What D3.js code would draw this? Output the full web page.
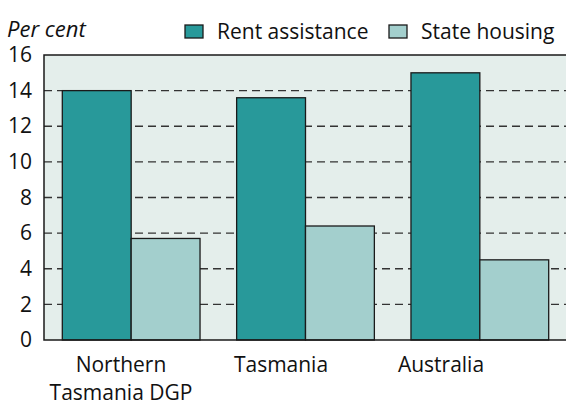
<!DOCTYPE html>
<html>
<head>
<meta charset="utf-8">
<script src="https://cdn.jsdelivr.net/npm/d3@7"></script>
<style>
  body { margin: 0; background: #fff; }
  text { font-family: "Open Sans", sans-serif; fill: #111; }
</style>
</head>
<body>
<div id="chart"></div>
<script>
// data
const categories = ["Northern Tasmania DGP", "Tasmania", "Australia"];
const categoryLines = [["Northern", "Tasmania DGP"], ["Tasmania"], ["Australia"]];
const seriesNames = ["Rent assistance", "State housing"];
const rentAssistance = [14.0, 13.6, 15.0];
const stateHousing = [5.7, 6.4, 4.5];
const yTicks = [0, 2, 4, 6, 8, 10, 12, 14, 16];

const colors = { "Rent assistance": "#28999a", "State housing": "#a3cfcd" };

const width = 566, height = 405;
const plot = { left: 44, right: 567, top: 55, bottom: 340 };
const fontSize = 21;

const svg = d3.select("#chart").append("svg")
  .attr("width", width)
  .attr("height", height);

const x = d3.scaleBand()
  .domain(categories)
  .range([plot.left, plot.right])
  .paddingInner(0.21)
  .paddingOuter(0.105);

// the category labels sit on a slightly tighter spacing than the bars
const xLabel = d3.scaleBand()
  .domain(categories)
  .range([41, 521]);

const x1 = d3.scaleBand()
  .domain(seriesNames)
  .range([0, x.bandwidth()]);

const y = d3.scaleLinear().domain([0, 16]).range([plot.bottom, plot.top]);

// plot background
svg.append("rect")
  .attr("x", plot.left)
  .attr("y", plot.top)
  .attr("width", plot.right - plot.left)
  .attr("height", plot.bottom - plot.top)
  .attr("fill", "#e4eeeb");

// dashed gridlines
svg.append("g")
  .selectAll("line")
  .data(yTicks.filter(d => d > 0 && d < 16))
  .enter()
  .append("line")
  .attr("x1", plot.left)
  .attr("x2", plot.right)
  .attr("y1", d => y(d))
  .attr("y2", d => y(d))
  .attr("stroke", "#333")
  .attr("stroke-width", 1.3)
  .attr("stroke-dasharray", "8,5");

// bars
const table = categories.map((c, i) => ({
  category: c,
  values: [
    { name: seriesNames[0], value: rentAssistance[i] },
    { name: seriesNames[1], value: stateHousing[i] }
  ]
}));

svg.append("g")
  .selectAll("g")
  .data(table)
  .enter()
  .append("g")
  .attr("transform", d => `translate(${x(d.category)},0)`)
  .selectAll("rect")
  .data(d => d.values)
  .enter()
  .append("rect")
  .attr("x", d => x1(d.name))
  .attr("y", d => y(d.value))
  .attr("width", x1.bandwidth())
  .attr("height", d => y(0) - y(d.value))
  .attr("fill", d => colors[d.name])
  .attr("stroke", "#1a1a1a")
  .attr("stroke-width", 1.3);

// frame: top, left, bottom
svg.append("path")
  .attr("d", `M${plot.right},${plot.top}H${plot.left}V${plot.bottom}H${plot.right}`)
  .attr("fill", "none")
  .attr("stroke", "#1a1a1a")
  .attr("stroke-width", 1.5);

// y axis labels
const yAxis = svg.append("g")
  .attr("transform", `translate(${plot.left},0)`)
  .call(d3.axisLeft(y).tickValues(yTicks).tickSize(0).tickPadding(12));
yAxis.select(".domain").remove();
yAxis.selectAll("text")
  .attr("font-size", fontSize)
  .attr("font-family", "Open Sans, sans-serif")
  .attr("fill", "#111");

// category labels
const catLabels = svg.append("g")
  .selectAll("text")
  .data(categories)
  .enter()
  .append("text")
  .attr("text-anchor", "middle")
  .attr("font-size", fontSize)
  .attr("x", d => xLabel(d) + xLabel.bandwidth() / 2)
  .attr("y", 372);
catLabels.selectAll("tspan")
  .data((d, i) => categoryLines[i])
  .enter()
  .append("tspan")
  .attr("x", function () { return d3.select(this.parentNode).attr("x"); })
  .attr("dy", (d, i) => i === 0 ? 0 : 28)
  .text(d => d);

// unit label
svg.append("text")
  .attr("x", 7)
  .attr("y", 37)
  .attr("font-size", 22)
  .attr("font-style", "italic")
  .text("Per cent");

// legend
const legendItems = [
  { name: seriesNames[0], x: 185 },
  { name: seriesNames[1], x: 389 }
];
const legend = svg.append("g")
  .selectAll("g")
  .data(legendItems)
  .enter()
  .append("g")
  .attr("transform", d => `translate(${d.x},25)`);
legend.append("rect")
  .attr("width", 18)
  .attr("height", 13)
  .attr("fill", d => colors[d.name])
  .attr("stroke", "#1a1a1a")
  .attr("stroke-width", 1.3);
legend.append("text")
  .attr("x", 32)
  .attr("y", 14)
  .attr("font-size", fontSize)
  .text(d => d.name);
</script>
</body>
</html>
